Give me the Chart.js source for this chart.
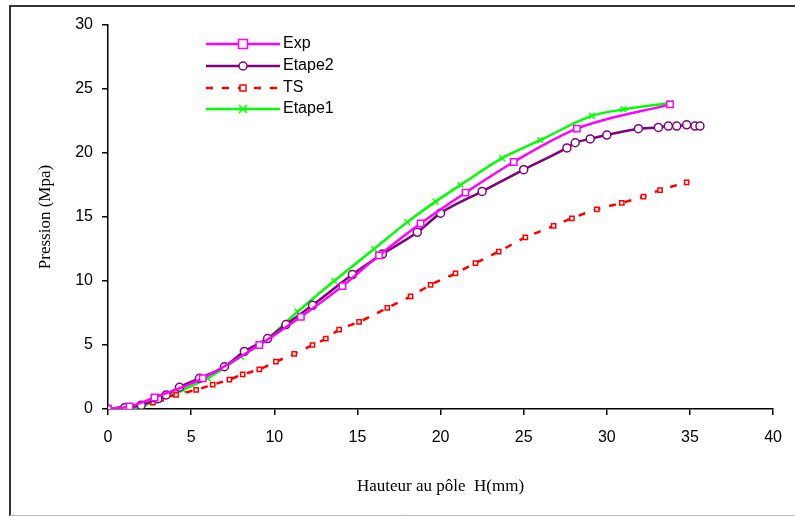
<!DOCTYPE html>
<html>
<head>
<meta charset="utf-8">
<script src="https://cdn.jsdelivr.net/npm/chart.js@4"></script>
<style>
    html, body { margin: 0; padding: 0; background: #fff; }
    #wrap { width: 795px; height: 516px; }
</style>
</head>
<body>
<div id="wrap"><canvas id="chart" width="795" height="516"></canvas></div>
<script>
// Data (H in mm, pressure in MPa)
const expH = [0, 1.3, 2.8, 5.7, 9.1, 11.6, 14.1, 16.3, 18.8, 21.5, 24.4, 28.2, 33.8];
const expP = [0, 0.2, 0.9, 2.4, 5.0, 7.2, 9.6, 12.0, 14.5, 16.9, 19.3, 21.9, 23.8];

const etape2H = [0, 1, 2, 3, 3.5, 4.3, 5.5, 7.0, 8.2, 9.6, 10.7, 12.3, 14.7, 16.5, 18.6, 20.0, 22.5, 25.0, 27.6, 28.1, 29.0, 30.0, 31.9, 33.1, 33.7, 34.2, 34.8, 35.3, 35.6];
const etape2P = [0, 0.1, 0.3, 0.8, 1.1, 1.7, 2.4, 3.3, 4.5, 5.5, 6.6, 8.1, 10.5, 12.1, 13.8, 15.3, 17.0, 18.7, 20.4, 20.8, 21.1, 21.4, 21.9, 22.0, 22.1, 22.1, 22.2, 22.1, 22.1];

const tsH = [0, 0.7, 1.4, 2.1, 2.7, 3.2, 4.1, 5.3, 6.3, 7.3, 8.1, 9.1, 10.1, 11.2, 12.3, 13.1, 13.9, 15.1, 16.8, 18.2, 19.4, 20.9, 22.1, 23.5, 25.1, 26.8, 27.9, 29.4, 30.9, 32.2, 33.2, 34.8];
const tsP = [0, 0.0, 0.2, 0.4, 0.5, 0.8, 1.1, 1.5, 1.9, 2.3, 2.7, 3.1, 3.7, 4.3, 5.0, 5.5, 6.2, 6.8, 7.9, 8.8, 9.7, 10.6, 11.4, 12.3, 13.4, 14.3, 14.9, 15.6, 16.1, 16.6, 17.1, 17.7];

const etape1H = [0, 0.8, 2, 3, 4.5, 6, 8, 9.5, 11.4, 13.6, 16.0, 18.0, 19.7, 21.2, 23.7, 26.0, 29.1, 31.0, 33.8];
const etape1P = [0, 0, 0.2, 0.7, 1.5, 2.4, 4.1, 5.4, 7.6, 10.0, 12.5, 14.6, 16.2, 17.5, 19.6, 21.0, 22.9, 23.4, 23.9];

const xTicks = [0, 5, 10, 15, 20, 25, 30, 35, 40];
const yTicks = [0, 5, 10, 15, 20, 25, 30];

function toPoints(xs, ys) {
    return xs.map((x, i) => ({ x: x, y: ys[i] }));
}

// Legend drawn inside the plot, like the original
const insideLegend = {
    id: 'insideLegend',
    afterDatasetsDraw(chart) {
        const ctx = chart.ctx;
        const x0 = 206, x1 = 280;
        const rows = [44, 66, 88, 109];
        ctx.save();
        chart.data.datasets.forEach((ds, i) => {
            const y = rows[i];
            ctx.strokeStyle = ds.borderColor;
            ctx.lineWidth = ds.borderWidth;
            ctx.setLineDash(ds.borderDash || []);
            ctx.beginPath();
            ctx.moveTo(x0, y);
            ctx.lineTo(x1, y);
            ctx.stroke();
            ctx.setLineDash([]);
            const cx = (x0 + x1) / 2;
            ctx.lineWidth = 1.5;
            ctx.fillStyle = '#fff';
            const r = ds.pointRadius;
            if (ds.pointStyle === 'rect') {
                ctx.fillRect(cx - r, y - r, 2 * r, 2 * r);
                ctx.strokeRect(cx - r, y - r, 2 * r, 2 * r);
            } else if (ds.pointStyle === 'circle') {
                ctx.beginPath();
                ctx.arc(cx, y, r, 0, Math.PI * 2);
                ctx.fill();
                ctx.stroke();
            } else {
                ctx.beginPath();
                ctx.moveTo(cx - r, y - r); ctx.lineTo(cx + r, y + r);
                ctx.moveTo(cx + r, y - r); ctx.lineTo(cx - r, y + r);
                ctx.stroke();
            }
            ctx.fillStyle = '#000';
            ctx.font = '16px "Liberation Sans", Arial, sans-serif';
            ctx.textBaseline = 'middle';
            ctx.fillText(ds.label, x1 + 3, y);
        });
        ctx.restore();
    },
    afterDraw(chart) {
        // outer frame of the picture
        const ctx = chart.ctx;
        ctx.save();
        ctx.strokeStyle = '#333';
        ctx.lineWidth = 2;
        ctx.beginPath();
        ctx.moveTo(10, 516);
        ctx.lineTo(10, 6);
        ctx.lineTo(795, 6);
        ctx.stroke();
        ctx.strokeStyle = '#bbb';
        ctx.lineWidth = 1;
        ctx.beginPath();
        ctx.moveTo(10, 515.5);
        ctx.lineTo(795, 515.5);
        ctx.stroke();
        ctx.restore();
    }
};

const tickFont = { family: '"Liberation Sans", Arial, sans-serif', size: 16 };
const titleFont = { family: '"Liberation Serif", "Times New Roman", serif', size: 17 };

new Chart(document.getElementById('chart'), {
    type: 'line',
    data: {
        datasets: [
            {
                label: 'Exp',
                data: toPoints(expH, expP),
                borderColor: '#ff00ff',
                backgroundColor: '#fff',
                borderWidth: 2.5,
                pointStyle: 'rect',
                pointRadius: 4.5,
                pointBorderWidth: 1.5,
                cubicInterpolationMode: 'monotone',
            },
            {
                label: 'Etape2',
                data: toPoints(etape2H, etape2P),
                borderColor: '#800080',
                backgroundColor: '#fff',
                borderWidth: 2.5,
                pointStyle: 'circle',
                pointRadius: 4,
                pointBorderWidth: 1.5,
                cubicInterpolationMode: 'monotone',
            },
            {
                label: 'TS',
                data: toPoints(tsH, tsP),
                borderColor: '#ff0000',
                backgroundColor: '#fff',
                borderWidth: 2.5,
                borderDash: [7, 9],
                pointStyle: 'rect',
                pointRadius: 3,
                pointBorderWidth: 1.5,
                cubicInterpolationMode: 'monotone',
            },
            {
                label: 'Etape1',
                data: toPoints(etape1H, etape1P),
                borderColor: '#00ff00',
                backgroundColor: '#00ff00',
                borderWidth: 2.5,
                pointStyle: 'crossRot',
                pointRadius: 4,
                pointBorderWidth: 1.5,
                cubicInterpolationMode: 'monotone',
            },
        ],
    },
    options: {
        responsive: false,
        animation: false,
        layout: { padding: { top: 25, right: 9, left: 0, bottom: 0 } },
        plugins: {
            legend: { display: false },
            tooltip: { enabled: false },
        },
        scales: {
            x: {
                type: 'linear',
                min: 0,
                max: 40,
                afterBuildTicks: scale => { scale.ticks = xTicks.map(v => ({ value: v })); },
                afterFit: scale => { scale.height = 107; },
                border: { display: true, color: '#000', width: 1.5 },
                grid: { display: true, drawOnChartArea: false, drawTicks: true, tickLength: 6, color: '#000', lineWidth: 1.5 },
                ticks: { font: tickFont, color: '#000', padding: 13, maxRotation: 0 },
                title: { display: true, text: 'Hauteur au pôle  H(mm)', font: titleFont, color: '#000', padding: { top: 0, bottom: 19 } },
            },
            y: {
                type: 'linear',
                min: 0,
                max: 30,
                afterBuildTicks: scale => { scale.ticks = yTicks.map(v => ({ value: v })); },
                afterFit: scale => { scale.width = 108; },
                border: { display: true, color: '#000', width: 1.5 },
                grid: { display: true, drawOnChartArea: false, drawTicks: true, tickLength: 6, color: '#000', lineWidth: 1.5 },
                ticks: { font: tickFont, color: '#000', padding: 9 },
                title: { display: true, text: 'Pression (Mpa)', font: titleFont, color: '#000', padding: { top: 35, bottom: 0 } },
            },
        },
    },
    plugins: [insideLegend],
});
</script>
</body>
</html>
